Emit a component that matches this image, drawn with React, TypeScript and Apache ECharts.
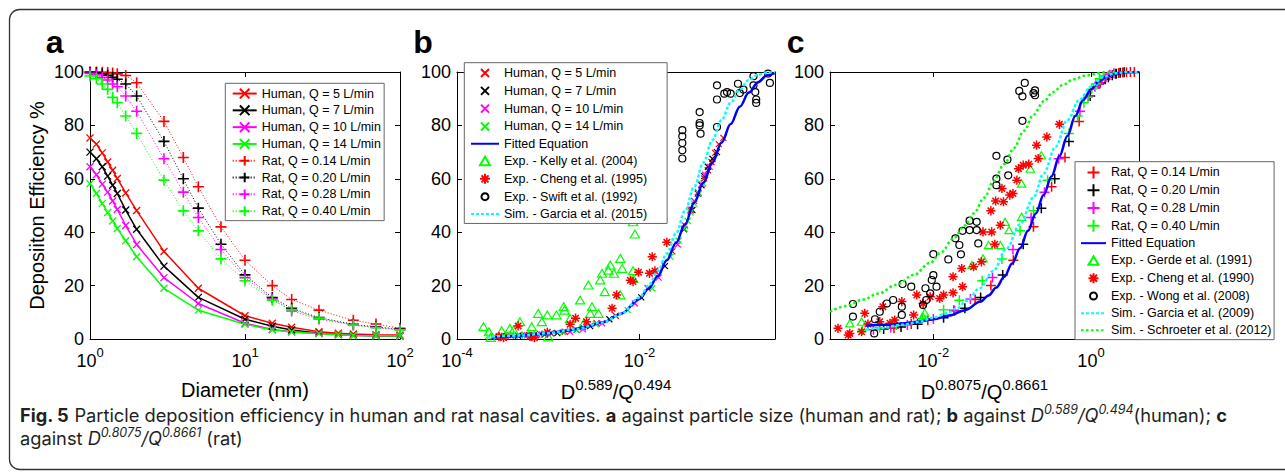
import { useEffect, useRef } from 'react';
import * as echarts from 'echarts';

// ---------------- DATA ----------------
// Panel a: deposition efficiency vs particle diameter (nm)
const diameterHuman = [1, 1.1, 1.2, 1.3, 1.4, 1.5, 1.7, 2, 3, 5, 10, 15, 20, 30, 40, 50, 70, 100];
const humanQ5 = [75.3, 73, 69.7, 66.3, 63.2, 60.1, 54.7, 48.1, 32.8, 19, 8.7, 5.9, 4.4, 2.7, 2.2, 1.9, 1.6, 1.5];
const humanQ7 = [70, 67.5, 64.5, 61, 57.6, 54.5, 48.3, 41.1, 27.3, 15.6, 7.4, 4.8, 3.4, 2.2, 1.7, 1.4, 1.2, 1.1];
const humanQ10 = [64.5, 61.5, 58, 55, 51.7, 48.5, 42.5, 35.4, 23, 13.3, 5.9, 3.6, 2.7, 2.1, 1.7, 1.4, 1.2, 1.1];
const humanQ14 = [58.2, 54.5, 50.7, 47.4, 44.2, 41.4, 36.8, 30.8, 19, 10.8, 5.5, 3.4, 2.6, 2.0, 1.6, 1.3, 1.2, 1.1];

const diameterRat = [1, 1.1, 1.2, 1.3, 1.4, 1.5, 1.7, 2, 3, 4, 5, 7, 10, 15, 20, 30, 50, 70, 100];
const ratQ014 = [100, 100, 99.9, 99.8, 99.6, 99.3, 98.7, 96, 81.5, 68, 57, 42, 29.5, 20, 14.8, 10.8, 7, 5.6, 4];
const ratQ020 = [99.9, 99.7, 99.3, 98.8, 98, 97.3, 95.5, 91, 74, 60, 49, 35.5, 24, 15.5, 11.5, 8, 5.5, 4.5, 3.7];
const ratQ028 = [99.5, 99, 98, 97, 95.5, 94.5, 91, 85.3, 67.5, 55, 45.5, 33.5, 23, 15, 10.5, 7.5, 5.2, 4.3, 3.5];
const ratQ040 = [98.5, 97.5, 95.5, 93.5, 90.5, 88.5, 83.5, 77, 59.5, 48, 40.5, 30, 21.8, 14.5, 11, 7.8, 5.2, 4.2, 3.4];

// Panel b: x = log10(D^0.589 / Q^0.494) for the human points (same efficiencies as panel a)
const bLogQ5 = [-1.08, -1.13, -1.17, -1.21, -1.25, -1.29, -1.35, -1.44, -1.64, -1.91, -2.26, -2.47, -2.62, -2.82, -2.97, -3.09, -3.26, -3.44];
const bLogQ7 = [-1.15, -1.2, -1.25, -1.29, -1.32, -1.36, -1.42, -1.51, -1.72, -1.98, -2.33, -2.54, -2.69, -2.9, -3.04, -3.16, -3.33, -3.51];
const bLogQ10 = [-1.23, -1.28, -1.32, -1.36, -1.4, -1.44, -1.5, -1.58, -1.79, -2.05, -2.41, -2.62, -2.76, -2.97, -3.12, -3.23, -3.41, -3.59];
const bLogQ14 = [-1.3, -1.35, -1.4, -1.44, -1.47, -1.51, -1.57, -1.66, -1.86, -2.13, -2.48, -2.69, -2.84, -3.04, -3.19, -3.31, -3.48, -3.66];

const fitBLogX = [-3.62, -3.4, -3.2, -3.0, -2.8, -2.6, -2.4, -2.2, -2.0, -1.9, -1.8, -1.7, -1.6, -1.5, -1.4, -1.3, -1.2, -1.1, -1.0, -0.9, -0.8, -0.7, -0.6, -0.514];
const fitBY = [0.6, 1.0, 1.5, 2.2, 3.1, 4.4, 6.3, 9.5, 15, 18.8, 23.5, 29.5, 36, 43, 51, 58.5, 66, 73.5, 80.5, 87, 92.3, 96.2, 98.8, 99.7];

const garcia2015LogX = [-3.67, -3.3, -3.0, -2.7, -2.4, -2.2, -2.0, -1.9, -1.8, -1.7, -1.6, -1.5, -1.4, -1.3, -1.2, -1.1, -1.0, -0.9, -0.8, -0.7, -0.6, -0.514];
const garcia2015Y = [0.8, 1.3, 2.2, 3.7, 6.2, 9.4, 15.5, 20, 25.5, 32, 39.5, 48, 57, 66, 74.5, 82, 88.5, 93.5, 97, 99, 99.8, 100];

const kellyLogX = [-3.71, -3.65, -3.63, -3.51, -3.42, -3.38, -3.31, -3.18, -3.11, -3.07, -3.01, -3.0, -2.91, -2.83, -2.82, -2.76, -2.65, -2.61, -2.56, -2.54, -2.52, -2.45, -2.43, -2.41, -2.38, -2.34, -2.32, -2.28, -2.21, -2.19, -2.21, -2.07, -2.05, -2.07, -2.07];
const kellyY = [4.6, 2.7, 0.6, 3.1, 4.0, 3.4, 6.5, 4.6, 9.6, 6.5, 9.0, 0.8, 9.0, 12.1, 10.8, 7.7, 14.6, 5.9, 20.2, 9.6, 12.1, 9.6, 22.1, 24.6, 17.7, 25.8, 27.7, 24.6, 30.2, 26.4, 16.5, 43.9, 39.3, 25.6, 22.7];

const cheng1995LogX = [-3.54, -3.49, -3.33, -3.2, -3.15, -3.01, -2.76, -2.7, -2.58, -2.3, -2.25, -2.1, -2.07, -2.01, -1.89, -1.86, -1.83, -1.7];
const cheng1995Y = [0.9, 0.5, 4.9, 1.0, 0.5, 2.5, 5.5, 7.8, 6.5, 11.5, 16.5, 22, 21.5, 25, 24.6, 30.8, 25.5, 36.2];

const swiftLogX = [-1.53, -1.53, -1.53, -1.53, -1.53, -1.34, -1.34, -1.34, -1.33, -1.15, -1.15, -1.15, -1.07, -1.04, -1.0, -0.92, -0.9, -0.86, -0.75, -0.75, -0.73, -0.72, -0.72, -0.59, -0.57];
const swiftY = [78.2, 75.9, 73.4, 70.7, 67.6, 85, 80.9, 80, 76.9, 95, 89.7, 79.4, 91.9, 92.5, 91.9, 95.6, 92.1, 93.4, 98.4, 95, 92.5, 89.7, 88.4, 99.4, 95.9];

// Panel c: x = log10(D^0.8075 / Q^0.8661) for the rat points (same efficiencies as panel a)
const cLogQ014 = [0.55, 0.5, 0.45, 0.4, 0.35, 0.31, 0.23, 0.12, -0.15, -0.33, -0.5, -0.73, -0.985, -1.27, -1.47, -1.74, -2.07, -2.28, -2.5];
const cLogQ020 = [0.42, 0.37, 0.32, 0.27, 0.22, 0.18, 0.1, -0.01, -0.28, -0.46, -0.63, -0.86, -1.12, -1.4, -1.6, -1.87, -2.2, -2.41, -2.63];
const cLogQ028 = [0.29, 0.24, 0.19, 0.14, 0.09, 0.05, -0.03, -0.14, -0.41, -0.59, -0.76, -0.99, -1.25, -1.53, -1.73, -2.0, -2.33, -2.54, -2.76];
const cLogQ040 = [0.16, 0.11, 0.06, 0.01, -0.04, -0.09, -0.17, -0.28, -0.55, -0.73, -0.9, -1.13, -1.38, -1.67, -1.87, -2.14, -2.47, -2.68, -2.9];

const fitCLogX = [-2.85, -2.6, -2.4, -2.2, -2.0, -1.8, -1.6, -1.4, -1.3, -1.2, -1.1, -1.0, -0.9, -0.8, -0.7, -0.6, -0.5, -0.4, -0.3, -0.2, -0.1, 0, 0.1, 0.2, 0.3, 0.45, 0.609];
const fitCY = [5.0, 5.3, 5.8, 6.5, 7.4, 8.8, 10.8, 14.0, 16.3, 19.3, 23.3, 28.3, 34, 40.5, 47, 54, 61, 68.5, 76, 83.5, 89.5, 93.5, 96.5, 98.3, 99.3, 99.9, 100];

const garcia2009LogX = [-2.85, -2.68, -2.4, -2.17, -2.0, -1.83, -1.7, -1.58, -1.41, -1.24, -1.07, -0.9, -0.73, -0.6, -0.45, -0.3, -0.15, 0, 0.15, 0.3, 0.45, 0.609];
const garcia2009Y = [3.6, 4.0, 5.3, 6.5, 8.0, 9.6, 11.5, 14.2, 19, 25.5, 34, 43, 53, 62, 72, 82, 89.5, 94.5, 98, 99.5, 100, 100];

const schroeterLogX = [-3.311, -3.1, -2.89, -2.7, -2.47, -2.25, -2.04, -1.9, -1.75, -1.6, -1.49, -1.35, -1.24, -1.1, -0.98, -0.85, -0.73, -0.6, -0.48, -0.35, -0.22, -0.05, 0.15, 0.3];
const schroeterY = [10.2, 12.4, 14.8, 17, 20.3, 24, 28.5, 32.5, 37.5, 42.5, 47, 53, 59, 65.5, 71.5, 78, 84, 89, 92.5, 95.3, 97.3, 98.8, 99.7, 100];

const gerdeLogX = [-3.06, -2.91, -2.11, -2.13, -1.51, -1.37, -1.3, -1.15, -1.09, -1.04, -0.88, -0.88, -0.77, -0.63];
const gerdeY = [5.9, 6.5, 9.9, 8.4, 27.7, 30.2, 35.2, 35.2, 43.9, 40.8, 45.8, 58.2, 63.8, 68.8];

const cheng1990LogX = [-3.21, -3.08, -3.06, -2.87, -2.91, -2.83, -2.68, -2.64, -2.55, -2.49, -2.4, -2.25, -2.21, -2.13, -2.04, -1.92, -1.87, -1.75, -1.75, -1.64, -1.63, -1.49, -1.39, -1.37, -1.27, -1.26, -1.22, -1.15, -1.21, -1.13, -1.11, -1.03, -0.99, -0.94, -0.92, -0.86, -0.79, -0.69, -0.67, -0.56, -0.4];
const cheng1990Y = [4.0, 1.5, 2.1, 9.6, 2.7, 5.6, 6.5, 12.1, 5.9, 7.1, 14.0, 9.0, 16.5, 13.3, 15.8, 15.2, 16.5, 23.3, 17.3, 26.4, 19.6, 27.1, 28.9, 40.1, 48.0, 40.1, 35.5, 42.6, 51.7, 56.4, 51.4, 53.9, 54.5, 59.5, 63.8, 65.1, 65.5, 72.6, 67.6, 75.7, 80.4];

const wongLogX = [-3.02, -3.02, -2.75, -2.74, -2.68, -2.59, -2.51, -2.4, -2.4, -2.39, -2.28, -2.13, -2.09, -2.1, -2.04, -2.02, -2.0, -2.0, -1.96, -1.81, -1.72, -1.67, -1.65, -1.63, -1.54, -1.45, -1.54, -1.45, -1.43, -1.2, -1.2, -1.2, -1.06, -1.05, -0.91, -0.87, -0.84, -0.87, -0.71, -0.71, -0.73];
const wongY = [13.1, 8.4, 2.1, 7.4, 10.2, 13.3, 14.6, 12.1, 9.0, 20.6, 19.6, 12.7, 14.6, 19.0, 17.1, 22.1, 23.9, 31.8, 19.6, 29.8, 37.7, 35.2, 31.7, 40.5, 44.3, 43.9, 40.8, 40.8, 35.8, 68.6, 60.1, 57.6, 67.2, 61.3, 92.9, 90.9, 95.9, 81.7, 93.1, 91.3, 92.1];

// Labels
const humanLabels = ['Human, Q = 5 L/min', 'Human, Q = 7 L/min', 'Human, Q = 10 L/min', 'Human, Q = 14 L/min'];
const ratLabels = ['Rat, Q = 0.14 L/min', 'Rat, Q = 0.20 L/min', 'Rat, Q = 0.28 L/min', 'Rat, Q = 0.40 L/min'];
const bOtherLabels = ['Fitted Equation', 'Exp. - Kelly et al. (2004)', 'Exp. - Cheng et al. (1995)', 'Exp. - Swift et al. (1992)', 'Sim. - Garcia et al. (2015)'];
const cOtherLabels = ['Fitted Equation', 'Exp. - Gerde et al. (1991)', 'Exp. - Cheng et al. (1990)', 'Exp. - Wong et al. (2008)', 'Sim. - Garcia et al. (2009)', 'Sim. - Schroeter et al. (2012)'];
const yTitle = 'Deposiiton Efficiency %';
const aXTitle = 'Diameter (nm)';

// ---------------- STYLE ----------------
const FONT = '"Liberation Sans", Arial, Helvetica, sans-serif';
const CAP_FONT = 'Inter, "Open Sans", sans-serif';
const RED = '#ff0000', BLACK = '#000000', MAGENTA = '#ff00ff', GREEN = '#00ff00', BLUE = '#0000ff', CYAN = '#00ffff';
const qColors = [RED, BLACK, MAGENTA, GREEN];

const SYM_X = 'path://M0,0L10,10M10,0L0,10';
const SYM_X_SM = 'path://M0,0M12,12M2,2L10,10M10,2L2,10';
const SYM_PLUS = 'path://M6,0L6,12M0,6L12,6';
const SYM_STAR = 'path://M0,0M12,12M6,1L6,11M1,6L11,6M2.5,2.5L9.5,9.5M9.5,2.5L2.5,9.5';
const SYM_TRI = 'path://M0,0M12,12M6,1.7L11,10.3L1,10.3Z';
const SYM_CIRC = 'path://M0,0M12,12M9.5,6A3.5,3.5,0,1,1,2.5,6A3.5,3.5,0,1,1,9.5,6Z';
const SYM_NONE = 'path://M0,0M1,1';

const pairs = (xs: number[], ys: number[]) => xs.map((x, i) => [x, ys[i]]);

function lineSeries(name: string, g: number, data: number[][], color: string, width: number, dash: any, symbol: string, size: number, bw: number, smooth: boolean) {
  return {
    type: 'line', name, xAxisIndex: g * 2, yAxisIndex: g * 2, data,
    symbol, symbolSize: size, showSymbol: symbol !== SYM_NONE, showAllSymbol: true,
    lineStyle: { color, width, type: dash },
    itemStyle: { color, borderColor: color, borderWidth: bw },
    smooth: smooth ? 0.35 : false, smoothMonotone: 'x',
    silent: true, emphasis: { disabled: true }, clip: true,
  };
}
function scatterSeries(name: string, g: number, data: number[][], color: string, fill: string, symbol: string, size: number, bw: number) {
  return {
    type: 'scatter', name, xAxisIndex: g * 2, yAxisIndex: g * 2, data,
    symbol, symbolSize: size,
    itemStyle: { color: fill, borderColor: color, borderWidth: bw, opacity: 1 },
    silent: true, emphasis: { disabled: true }, clip: true,
  };
}

function buildOption() {
  const tickRich = {
    m: { fontSize: 18, lineHeight: 24, verticalAlign: 'bottom', fontFamily: FONT, color: '#000' },
    s: { fontSize: 13, lineHeight: 24, verticalAlign: 'top', fontFamily: FONT, color: '#000' },
  };
  const nameRich = {
    m: { fontSize: 20, lineHeight: 25, verticalAlign: 'bottom', fontFamily: FONT, color: '#000' },
    s: { fontSize: 15, lineHeight: 25, verticalAlign: 'top', fontFamily: FONT, color: '#000' },
  };
  const decadeFmt = (v: number) => {
    const r = Math.round(v);
    return Math.abs(v - r) < 1e-6 ? `{m|10}{s|${r === 0 ? 0 : r}}` : '';
  };
  const logFmt = (v: number) => decadeFmt(Math.log10(v));

  const axisLine = { show: true, onZero: false, lineStyle: { color: '#000', width: 1 } };
  const axisTick = { show: true, inside: true, length: 5, lineStyle: { color: '#000', width: 1 } };

  const xBases: any[] = [
    { type: 'log', logBase: 10, min: 1, max: 100 },
    { type: 'value', min: -4, max: -0.514, splitNumber: 2 },
    { type: 'value', min: -3.311, max: 0.609, splitNumber: 2 },
  ];
  const xNames = [aXTitle, '{m|D}{s|0.589}{m|/Q}{s|0.494}', '{m|D}{s|0.8075}{m|/Q}{s|0.8661}'];
  const xAxis: any[] = [];
  const yAxis: any[] = [];
  for (let g = 0; g < 3; g++) {
    xAxis.push({
      ...xBases[g], gridIndex: g, position: 'bottom', axisLine, axisTick,
      splitLine: { show: false }, minorTick: { show: false },
      axisLabel: { formatter: g === 0 ? logFmt : decadeFmt, rich: tickRich, margin: 7, color: '#000' },
      name: xNames[g], nameLocation: 'middle', nameGap: 38,
      nameTextStyle: g === 0
        ? { fontSize: 20, fontFamily: FONT, color: '#000', lineHeight: 25, verticalAlign: 'top' }
        : { rich: nameRich, fontSize: 20, fontFamily: FONT, color: '#000' },
    });
    xAxis.push({
      ...xBases[g], gridIndex: g, position: 'top', axisLine, axisTick,
      splitLine: { show: false }, axisLabel: { show: false },
    });
    yAxis.push({
      type: 'value', gridIndex: g, min: 0, max: 100, interval: 20, position: 'left', axisLine, axisTick,
      splitLine: { show: false },
      axisLabel: { fontSize: 18, fontFamily: FONT, color: '#000', margin: 6 },
      ...(g === 0 ? { name: yTitle, nameLocation: 'middle', nameGap: 43, nameTextStyle: { fontSize: 20, fontFamily: FONT, color: '#000' } } : {}),
    });
    yAxis.push({
      type: 'value', gridIndex: g, min: 0, max: 100, interval: 20, position: 'right', axisLine, axisTick,
      splitLine: { show: false }, axisLabel: { show: false },
    });
  }

  const series: any[] = [];
  const humanYs = [humanQ5, humanQ7, humanQ10, humanQ14];
  const ratYs = [ratQ014, ratQ020, ratQ028, ratQ040];
  const bLogs = [bLogQ5, bLogQ7, bLogQ10, bLogQ14];
  const cLogs = [cLogQ014, cLogQ020, cLogQ028, cLogQ040];

  // panel a
  humanYs.forEach((ys, i) => series.push(lineSeries('a:' + humanLabels[i], 0, pairs(diameterHuman, ys), qColors[i], 1.5, 'solid', SYM_X, 7, 1.3, false)));
  ratYs.forEach((ys, i) => series.push(lineSeries('a:' + ratLabels[i], 0, pairs(diameterRat, ys), qColors[i], 1, [1, 2], SYM_PLUS, 11, 1.6, false)));

  // panel b
  bLogs.forEach((xs, i) => series.push(scatterSeries('b:' + humanLabels[i], 1, pairs(xs, humanYs[i]), qColors[i], qColors[i], SYM_X_SM, 9, 1.2)));
  series.push(lineSeries('b:' + bOtherLabels[0], 1, pairs(fitBLogX, fitBY), BLUE, 2.5, 'solid', SYM_NONE, 1, 0, true));
  series.push(scatterSeries('b:' + bOtherLabels[1], 1, pairs(kellyLogX, kellyY), GREEN, 'transparent', SYM_TRI, 11, 1.2));
  series.push(scatterSeries('b:' + bOtherLabels[2], 1, pairs(cheng1995LogX, cheng1995Y), RED, RED, SYM_STAR, 11, 1.5));
  series.push(scatterSeries('b:' + bOtherLabels[3], 1, pairs(swiftLogX, swiftY), BLACK, 'transparent', SYM_CIRC, 12, 1.2));
  series.push(lineSeries('b:' + bOtherLabels[4], 1, pairs(garcia2015LogX, garcia2015Y), CYAN, 2.5, [3, 2], SYM_NONE, 1, 0, true));

  // panel c
  cLogs.forEach((xs, i) => series.push(scatterSeries('c:' + ratLabels[i], 2, pairs(xs, ratYs[i]), qColors[i], qColors[i], SYM_PLUS, 10, 1.5)));
  series.push(lineSeries('c:' + cOtherLabels[0], 2, pairs(fitCLogX, fitCY), BLUE, 2.5, 'solid', SYM_NONE, 1, 0, true));
  series.push(scatterSeries('c:' + cOtherLabels[1], 2, pairs(gerdeLogX, gerdeY), GREEN, 'transparent', SYM_TRI, 10, 1.2));
  series.push(scatterSeries('c:' + cOtherLabels[2], 2, pairs(cheng1990LogX, cheng1990Y), RED, RED, SYM_STAR, 11, 1.5));
  series.push(scatterSeries('c:' + cOtherLabels[3], 2, pairs(wongLogX, wongY), BLACK, 'transparent', SYM_CIRC, 12, 1.2));
  series.push(lineSeries('c:' + cOtherLabels[4], 2, pairs(garcia2009LogX, garcia2009Y), CYAN, 2.5, [3, 2], SYM_NONE, 1, 0, true));
  series.push(lineSeries('c:' + cOtherLabels[5], 2, pairs(schroeterLogX, schroeterY), GREEN, 2.5, [2.5, 2.5], SYM_NONE, 1, 0, true));

  const legendBase = {
    orient: 'vertical', itemHeight: 12, itemGap: 3.8, backgroundColor: '#fff',
    borderColor: '#666', borderWidth: 1, borderRadius: 0, selectedMode: false, align: 'left', z: 10,
    textStyle: { fontSize: 12.5, fontFamily: FONT, color: '#000' },
    formatter: (n: string) => n.slice(2),
  };
  const legend = [
    { ...legendBase, left: 225.3, top: 83.3, itemWidth: 24, padding: [3.75, 3.3, 3, 6.4], data: [...humanLabels, ...ratLabels].map((l) => 'a:' + l) },
    { ...legendBase, left: 464.3, top: 62.7, itemWidth: 28, padding: [3.35, 20, 3, 5.7], data: [...humanLabels, ...bOtherLabels].map((l) => 'b:' + l) },
    { ...legendBase, left: 1075, top: 161.7, itemWidth: 25, padding: [3.75, 2.6, 3, 5], data: [...ratLabels, ...cOtherLabels].map((l) => 'c:' + l) },
  ];

  const capColor = '#231f20';
  const CS = 18.25;
  const LH = 23;
  const capRich = {
    n: { fontFamily: CAP_FONT, fontSize: CS, lineHeight: LH, verticalAlign: 'bottom', fill: capColor, color: capColor },
    b: { fontFamily: CAP_FONT, fontSize: CS, fontWeight: 'bold', lineHeight: LH, verticalAlign: 'bottom', fill: capColor, color: capColor },
    i: { fontFamily: CAP_FONT, fontSize: CS, fontStyle: 'italic', lineHeight: LH, verticalAlign: 'bottom', fill: capColor, color: capColor },
    s: { fontFamily: CAP_FONT, fontSize: 12.5, fontStyle: 'italic', lineHeight: LH, verticalAlign: 'bottom', padding: [0, 0, 7.3, 0], fill: capColor, color: capColor },
  };
  const caption =
    '{b|Fig. 5}{n| Particle deposition efficiency in human and rat nasal cavities. }{b|a}{n| against particle size (human and rat); }{b|b}{n| against }{i|D}{s|0.589}{i|/Q}{s|0.494}{n|(human); }{b|c}' +
    '\n{n|against }{i|D}{s|0.8075}{i|/Q}{s|0.8661}{n| (rat)}';

  const letter = (t: string, x: number) => ({
    type: 'text', silent: true,
    style: { text: t, x, y: 42, verticalAlign: 'middle', align: 'left', fontSize: 32, fontWeight: 'bold', fontFamily: FONT, fill: '#000' },
  });

  const graphic = [
    { type: 'rect', silent: true, z: -10, shape: { x: 9.5, y: 9.5, width: 1300, height: 460, r: 10 }, style: { fill: 'none', stroke: '#333', lineWidth: 1.3 } },
    letter('a', 45.7), letter('b', 413.3), letter('c', 786.7),
    { type: 'text', silent: true, style: { text: caption, x: 20, y: 400.6, verticalAlign: 'top', align: 'left', fontSize: CS, lineHeight: LH, fontFamily: CAP_FONT, fill: capColor, rich: capRich } },
  ];

  return {
    animation: false,
    backgroundColor: '#fff',
    grid: [
      { left: 90, top: 72, width: 310, height: 267 },
      { left: 457, top: 72, width: 318, height: 267 },
      { left: 830, top: 72, width: 309, height: 267 },
    ],
    xAxis, yAxis, series, legend, graphic,
  };
}

export default function App() {
  const ref = useRef<HTMLDivElement>(null);
  useEffect(() => {
    const chart = echarts.init(ref.current!, undefined, { renderer: 'svg' });
    chart.setOption(buildOption() as any);
    return () => chart.dispose();
  }, []);
  return <div ref={ref} style={{ position: 'absolute', left: 0, top: 0, width: 1285, height: 472, background: '#fff' }} />;
}
